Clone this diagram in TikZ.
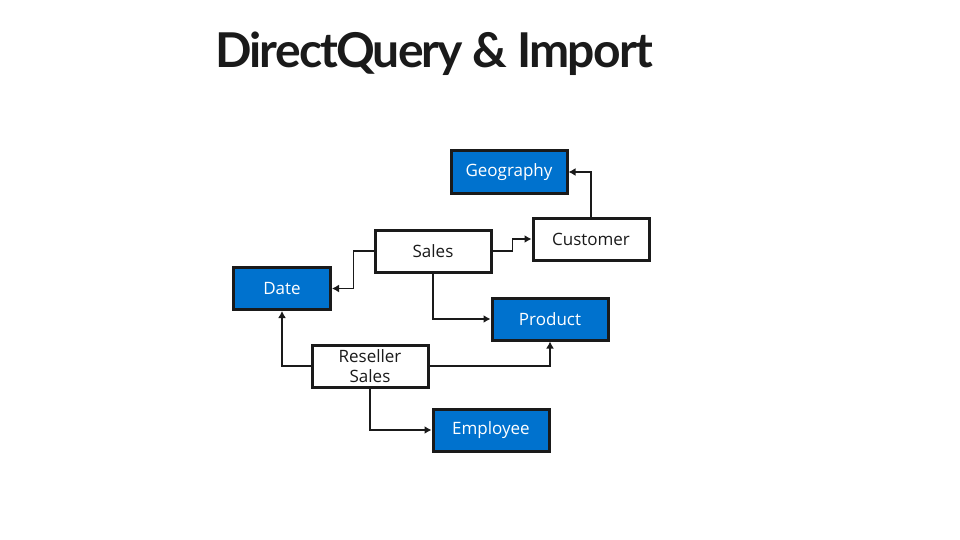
\documentclass[tikz,border=0pt]{standalone}
\usepackage{fontspec}
\setmainfont{Open Sans}
\newfontfamily\titlefont{Lato}[LetterSpace=-3.9]
\usepackage{xcolor}
\definecolor{table-blue}{HTML}{0072CE}
\definecolor{ink}{HTML}{1A1A1A}
\usepackage{tikz}
\usetikzlibrary{positioning}
\usetikzlibrary{arrows.meta}
\tikzset{box/.style = {draw=ink, line width=3pt, minimum width=116pt, minimum height=42pt, inner sep=0pt, align=center, text=ink, fill=white}}
\tikzset{dim/.style = {box, fill=table-blue, text=white}}
\tikzset{arr/.style = {line width=1.8pt, draw=ink, -{Latex[length=7pt, width=8pt]}}}

\begin{document}
\begin{tikzpicture}[x=1pt, y=-1pt, font=\fontsize{17}{20}\selectfont]
\useasboundingbox (0,0) rectangle (960,540);

\node[font=\titlefont\fontsize{48}{50}\selectfont\bfseries, text=ink] (title) at (434,54) {DirectQuery \& Import};

\node[box] (sales) at (433,251) {Sales};
\node[box, right=39pt of sales, yshift=12pt] (customer) {Customer};
\node[dim, above=22pt of customer, xshift=-82pt] (geography) {Geography};
\node[dim, minimum width=97pt, left=41.5pt of sales, yshift=-37.5pt] (date) {Date};
\node[dim, below=21pt of sales, xshift=117pt, yshift=-2pt] (product) {Product};
\node[box, below=2pt of product, xshift=-180pt] (reseller) {Reseller\\Sales};
\node[dim, below=19pt of reseller, xshift=121pt] (employee) {Employee};

\draw[arr] (customer) |- (geography);
\draw[arr] (sales.east) -- ++(20,0) |- (customer);
\draw[arr] (sales.west) -- ++(-20,0) |- (date);
\draw[arr] (sales) |- (product);
\draw[arr] (reseller) -| (date);
\draw[arr] (reseller) -| (product);
\draw[arr] (reseller) |- (employee);

\end{tikzpicture}
\end{document}
